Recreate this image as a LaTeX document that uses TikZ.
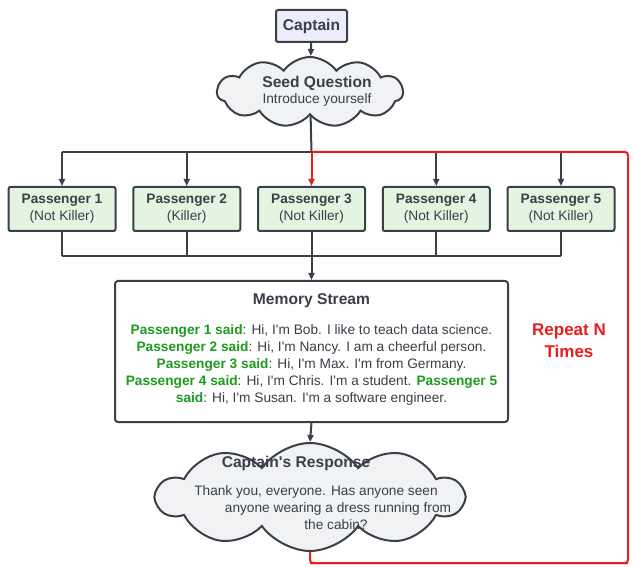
\documentclass[tikz,border=0pt]{standalone}
\usepackage{fontspec}
\setmainfont{Liberation Sans}[Ligatures=TeXOff]
\usetikzlibrary{shapes.symbols,arrows.meta,positioning}

\definecolor{ink}{HTML}{3A3F48}
\definecolor{capfill}{HTML}{ECECFA}
\definecolor{passfill}{HTML}{E3F5E1}
\definecolor{cloudfill}{HTML}{F1F2F4}
\definecolor{saidgreen}{HTML}{1E9B1E}
\definecolor{repeatred}{HTML}{E81E1E}

\pgfdeclarelayer{background}
\pgfsetlayers{background,main}

\newcommand{\titlefont}{\bfseries\fontsize{15.6}{19}\selectfont}
\newcommand{\bodyfont}{\fontsize{13.7}{17}\selectfont}
\newcommand{\saidby}[1]{\textcolor{saidgreen}{\textbf{#1}}}

\tikzstyle{capbox}=[
    draw=ink,
    line width=2pt,
    fill=capfill,
    rounded corners=2pt,
    minimum width=71pt,
    minimum height=32pt,
    text=ink,
    font=\titlefont,
  ]
\tikzstyle{passbox}=[
    draw=ink,
    line width=2pt,
    fill=passfill,
    rounded corners=2pt,
    minimum width=107pt,
    minimum height=44pt,
    align=center,
    text=ink,
    font=\bodyfont,
  ]
\tikzstyle{membox}=[
    draw=ink,
    line width=2pt,
    fill=white,
    rounded corners=3pt,
    minimum width=393pt,
    minimum height=141pt,
  ]
\tikzstyle{thought}=[
    cloud,
    cloud puffs=11,
    cloud puff arc=110,
    draw=ink,
    line width=2pt,
    fill=cloudfill,
    inner sep=0pt,
  ]
\tikzstyle{flow}=[
    -{Triangle[length=7pt,width=6pt]},
    line width=2pt,
    draw=ink,
  ]
\tikzstyle{wire}=[
    line width=2pt,
    draw=ink,
  ]
\tikzstyle{repeatline}=[
    line width=2pt,
    draw=repeatred,
    rounded corners=3pt,
  ]

\begin{document}
\begin{tikzpicture}[x=1pt, y=-1pt]
      \useasboundingbox (0,0) rectangle (633,567);
      \node[capbox] (captain) at (311.5,26) {Captain};
      \node[thought, aspect=2.66, minimum width=186pt, minimum height=70pt] (seed) at (310,92) {};
      \node[text=ink, align=center, font=\bodyfont] (seedtext) at (317,91)
        {{\titlefont Seed Question}\\[-1pt] Introduce yourself};
      \draw[flow] (captain) to (seed);

      \coordinate (bus) at (311.5,152);
      \coordinate (join) at (311.5,256);
      \foreach \role [count=\i] in {Not Killer, Killer, Not Killer, Not Killer, Not Killer} {%
        \node[passbox] (p\i) at ({62+124.75*(\i-1)}, 209) {\textbf{Passenger \i}\\(\role)};
      }
      \draw[wire] (bus -| p1) to (bus);
      \foreach \i in {1, 2, 4, 5} {%
        \draw[flow] (bus -| p\i) to (p\i.north);
      }
      \draw[wire] (join -| p1) to (join -| p5);
      \foreach \i in {1, 2, 4, 5} {%
        \draw[wire] (p\i.south) to (join -| p\i);
      }

      \node[membox] (mem) at (311.5,351.5) {};
      \node[text=ink, align=center, font=\bodyfont] (memtext) at (311.5,349.5)
        {{\titlefont Memory Stream}\\[13pt]
         \saidby{Passenger 1 said}: Hi, I'm Bob. I like to teach data science.\\
         \saidby{Passenger 2 said}: Hi, I'm Nancy. I am a cheerful person.\\
         \saidby{Passenger 3 said}: Hi, I'm Max. I'm from Germany.\\
         \saidby{Passenger 4 said}: Hi, I'm Chris. I'm a student. \saidby{Passenger 5}\\
         \saidby{said}: Hi, I'm Susan. I'm a software engineer.};
      \draw[flow] (p3.south) to (mem.north);

      \node[thought, cloud puffs=10, aspect=2.87, minimum width=306pt, minimum height=108pt] (resp) at (310,497) {};
      \node[text=ink, font=\titlefont] (resptitle) at (296,463) {Captain's Response};
      \node[text=ink, align=center, font=\bodyfont] (resptext) at (316,508)
        {Thank you, everyone. Has anyone seen\\
         \hspace*{44pt}anyone wearing a dress running from\\
         \hspace*{40pt}the cabin?};
      \draw[flow] (mem.south) to (resp.north);

      % repeat loop, ends tucked behind the clouds
      \coordinate (loopne) at (628,152);
      \coordinate (loopse) at (628,563);
      \coordinate (loopsw) at (resp.center |- loopse);
      \begin{pgfonlayer}{background}
        \draw[wire] (seed.center) to (bus);
        \draw[repeatline] (resp.center) -- (loopsw) -- (loopse);
      \end{pgfonlayer}
      \draw[repeatline] (loopsw) -- (loopse) -- (loopne) -- (bus);
      \draw[flow, draw=repeatred, fill=repeatred] (bus) to (p3.north);
      \node[text=repeatred, align=center, font=\bfseries\fontsize{17}{22}\selectfont] (repeatn)
        at (569,341) {Repeat N\\Times};
    \end{tikzpicture}
\end{document}
